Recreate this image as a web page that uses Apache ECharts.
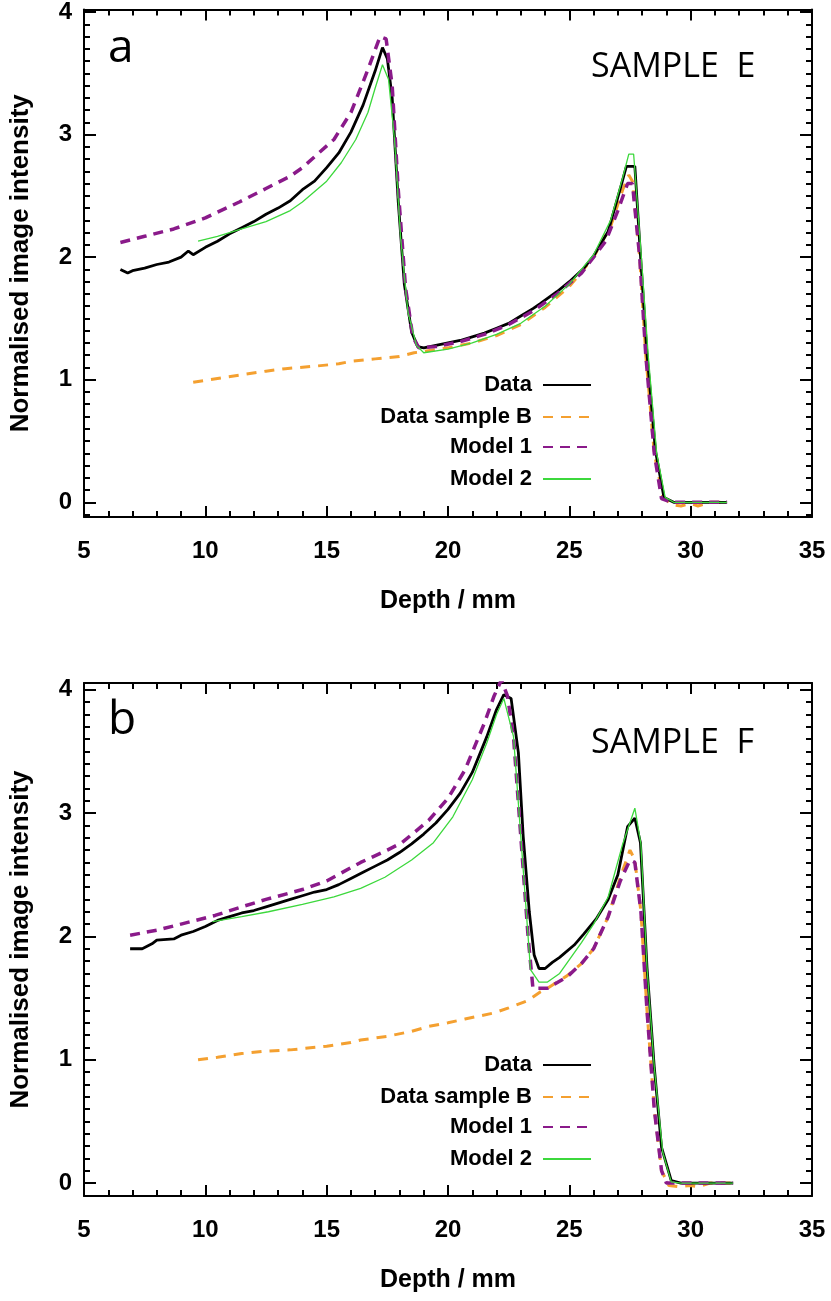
<!DOCTYPE html>
<html><head><meta charset="utf-8">
<script src="https://cdn.jsdelivr.net/npm/echarts@6/dist/echarts.min.js"></script>
<style>html,body{margin:0;padding:0;background:#fff}#c{width:831px;height:1301px}</style>
</head><body><div id="c"></div>
<script>
// ---------- data ----------
const seriesNames = ['Data', 'Data sample B', 'Model 1', 'Model 2'];
const xTickLabels = [5, 10, 15, 20, 25, 30, 35];
const yTickLabels = [0, 1, 2, 3, 4];
const panelTitles = ['a', 'b'];
const sampleTitles = ['SAMPLE  E', 'SAMPLE  F'];

// Panel a (SAMPLE E): [depth mm, normalised intensity]
const a_data = [[6.5,1.90],[6.8,1.87],[7.0,1.89],[7.5,1.91],[8.0,1.94],[8.5,1.96],[9.0,2.00],[9.3,2.05],[9.5,2.02],[10.0,2.08],[10.5,2.13],[11.0,2.19],[11.5,2.24],[12.0,2.29],[12.5,2.35],[13.0,2.40],[13.5,2.46],[14.0,2.55],[14.5,2.62],[15.0,2.73],[15.5,2.85],[16.0,3.02],[16.5,3.24],[17.0,3.52],[17.3,3.71],[17.5,3.62],[17.7,3.30],[17.95,2.45],[18.2,1.78],[18.5,1.39],[18.75,1.27],[19.0,1.26],[19.5,1.28],[20.0,1.30],[20.5,1.32],[21.0,1.35],[21.5,1.38],[22.0,1.42],[22.5,1.46],[23.0,1.52],[23.5,1.58],[23.8,1.62],[24.5,1.72],[25.0,1.80],[25.6,1.91],[26.0,2.01],[26.6,2.21],[27.1,2.56],[27.35,2.74],[27.7,2.74],[27.93,2.02],[28.2,1.21],[28.55,0.42],[28.9,0.04],[29.3,0.00],[30.0,0.00],[31.5,0.00]];
const a_sampleB = [[9.5,0.98],[10.5,1.01],[11.5,1.04],[12.5,1.07],[13.3,1.09],[14.5,1.11],[15.5,1.13],[16.0,1.15],[17.0,1.17],[18.0,1.19],[18.6,1.22],[19.0,1.23],[20.0,1.26],[21.0,1.30],[22.0,1.36],[23.0,1.45],[24.0,1.59],[25.0,1.76],[26.0,2.00],[26.7,2.25],[27.2,2.55],[27.45,2.67],[27.6,2.62],[27.9,2.00],[28.15,1.20],[28.5,0.40],[28.85,0.05],[29.2,-0.02],[29.6,-0.03],[30.0,-0.01],[30.3,-0.03],[30.8,0.00],[31.55,0.00]];
const a_model1 = [[6.5,2.12],[7.5,2.17],[8.7,2.23],[10.0,2.32],[11.4,2.45],[12.5,2.56],[13.5,2.66],[14.0,2.73],[15.3,2.96],[16.0,3.18],[16.7,3.53],[17.2,3.80],[17.45,3.78],[17.7,3.40],[17.95,2.55],[18.25,1.75],[18.55,1.35],[18.8,1.26],[19.5,1.27],[20.5,1.31],[21.5,1.37],[22.5,1.45],[23.5,1.56],[24.5,1.70],[25.5,1.87],[26.5,2.13],[27.0,2.38],[27.4,2.60],[27.6,2.60],[27.9,2.00],[28.15,1.20],[28.5,0.40],[28.8,0.03],[29.2,0.00],[31.5,0.00]];
const a_model2 = [[9.7,2.13],[10.5,2.17],[11.5,2.23],[12.5,2.29],[13.5,2.38],[14.0,2.45],[15.0,2.62],[15.6,2.77],[16.2,2.96],[16.7,3.18],[17.0,3.38],[17.3,3.57],[17.55,3.45],[17.8,2.95],[18.05,2.15],[18.35,1.55],[18.7,1.28],[19.0,1.22],[20.0,1.25],[21.0,1.30],[22.0,1.37],[23.0,1.46],[24.0,1.60],[25.0,1.78],[26.0,2.02],[26.7,2.30],[27.2,2.65],[27.45,2.84],[27.65,2.84],[27.95,2.05],[28.25,1.20],[28.6,0.40],[28.95,0.04],[29.3,0.00],[31.5,0.00]];

// Panel b (SAMPLE F)
const b_data = [[6.9,1.90],[7.4,1.90],[7.8,1.94],[8.0,1.97],[8.7,1.98],[9.0,2.01],[9.5,2.04],[10.0,2.08],[10.5,2.13],[11.0,2.16],[11.5,2.19],[12.0,2.21],[12.5,2.24],[13.0,2.27],[13.5,2.30],[14.0,2.33],[14.5,2.36],[15.0,2.38],[15.5,2.42],[16.0,2.47],[16.5,2.52],[17.0,2.57],[17.5,2.62],[18.0,2.68],[18.5,2.75],[19.0,2.83],[19.5,2.92],[20.0,3.03],[20.5,3.16],[21.0,3.33],[21.6,3.62],[22.0,3.84],[22.3,3.96],[22.6,3.93],[22.9,3.49],[23.1,2.81],[23.35,2.20],[23.55,1.85],[23.75,1.74],[24.0,1.74],[24.3,1.79],[24.6,1.83],[25.2,1.93],[25.6,2.02],[26.1,2.14],[26.6,2.30],[27.0,2.50],[27.4,2.89],[27.7,2.96],[27.93,2.76],[28.2,1.75],[28.5,0.94],[28.8,0.29],[29.2,0.02],[29.6,0.00],[31.75,0.00]];
const b_sampleB = [[9.7,1.00],[10.5,1.02],[11.5,1.05],[12.5,1.07],[13.5,1.08],[14.0,1.09],[15.0,1.11],[16.0,1.14],[16.4,1.16],[17.5,1.19],[18.5,1.23],[19.2,1.27],[20.0,1.30],[20.7,1.33],[21.9,1.38],[22.5,1.42],[23.3,1.48],[23.8,1.55],[24.1,1.58],[24.9,1.68],[25.5,1.78],[26.0,1.90],[26.6,2.16],[27.1,2.48],[27.5,2.70],[27.7,2.62],[27.95,2.20],[28.2,1.40],[28.5,0.60],[28.8,0.10],[29.1,-0.02],[29.5,-0.03],[30.0,-0.02],[30.3,-0.03],[30.8,0.00],[31.75,0.00]];
const b_model1 = [[6.9,2.01],[8.0,2.05],[9.0,2.10],[10.4,2.17],[11.5,2.24],[12.5,2.30],[14.0,2.38],[15.0,2.45],[16.4,2.60],[17.5,2.70],[18.1,2.76],[19.2,2.94],[20.0,3.12],[20.7,3.35],[21.5,3.73],[21.9,3.95],[22.2,4.08],[22.45,3.95],[22.7,3.62],[23.0,2.81],[23.3,2.00],[23.5,1.58],[24.1,1.58],[24.9,1.67],[25.5,1.78],[26.0,1.90],[26.6,2.16],[27.1,2.45],[27.5,2.62],[27.7,2.60],[27.95,2.20],[28.2,1.40],[28.5,0.60],[28.8,0.10],[29.0,0.00],[31.75,0.00]];
const b_model2 = [[10.3,2.12],[11.5,2.16],[12.6,2.20],[14.0,2.26],[15.3,2.32],[16.4,2.39],[17.4,2.48],[18.5,2.62],[19.4,2.76],[20.2,2.97],[21.0,3.27],[21.6,3.57],[22.0,3.80],[22.3,3.93],[22.7,3.62],[23.0,2.81],[23.4,1.73],[23.75,1.63],[24.1,1.63],[24.6,1.70],[25.5,1.95],[26.0,2.10],[26.6,2.32],[27.2,2.75],[27.7,3.04],[27.95,2.75],[28.2,1.75],[28.5,0.94],[28.85,0.25],[29.2,0.01],[29.6,0.00],[31.75,0.00]];

const panels = [
  { data: [a_data, a_sampleB, a_model1, a_model2] },
  { data: [b_data, b_sampleB, b_model1, b_model2] }
];

// ---------- style / layout ----------
const FONT = '"Liberation Sans", Arial, sans-serif';
const styles = [
  { color: '#000000', width: 2.8, type: 'solid' },
  { color: '#f4a030', width: 3, type: [10, 8] },
  { color: '#8a1a8a', width: 3.5, type: [10, 7] },
  { color: '#3cd83c', width: 1.3, type: 'solid' }
];
const layout = [
  { top: 8, height: 509, ymin: -0.12, ymax: 4.02, legendRows: [385, 417, 447, 479], letterTop: 26, sampleTop: 50 },
  { top: 683, height: 513, ymin: -0.105, ymax: 4.055, legendRows: [1065, 1097, 1127, 1159], letterTop: 698, sampleTop: 726 }
];
const GL = 82, GW = 730;

const minorY = [];
for (let v = -1; v <= 41; v++) minorY.push(v / 10);

const grids = [], xAxes = [], yAxes = [], series = [], legends = [], titles = [];
layout.forEach((L, p) => {
  grids.push({ left: GL, top: L.top, width: GW, height: L.height, containLabel: false });
  const xBase = {
    type: 'value', gridIndex: p, min: 5, max: 35, interval: 5,
    axisLine: { show: true, onZero: false, lineStyle: { color: '#000', width: 2 } },
    axisTick: { show: true, inside: true, length: 11, lineStyle: { color: '#000', width: 2 } },
    minorTick: { show: true, splitNumber: 5, length: 6, lineStyle: { color: '#000', width: 2 } },
    splitLine: { show: false }, minorSplitLine: { show: false }
  };
  xAxes.push(Object.assign({}, xBase, {
    position: 'bottom',
    axisLabel: { show: true, margin: 22, color: '#000', fontFamily: FONT, fontWeight: 'bold', fontSize: 24 },
    name: 'Depth / mm', nameLocation: 'middle', nameGap: 72,
    nameTextStyle: { color: '#000', fontFamily: FONT, fontWeight: 'bold', fontSize: 25 }
  }));
  xAxes.push(Object.assign({}, xBase, { position: 'top', axisLabel: { show: false } }));

  const yBase = {
    type: 'value', gridIndex: p, min: L.ymin, max: L.ymax,
    splitLine: { show: false }, axisLabel: { show: false }
  };
  const yMajorTick = { show: true, inside: true, length: 12, customValues: yTickLabels, lineStyle: { color: '#000', width: 2 } };
  const yMinorTick = { show: true, inside: true, length: 6, customValues: minorY, lineStyle: { color: '#000', width: 2 } };
  yAxes.push(Object.assign({}, yBase, {
    position: 'left',
    axisLine: { show: true, onZero: false, lineStyle: { color: '#000', width: 2 } },
    axisTick: yMajorTick,
    axisLabel: { show: true, customValues: yTickLabels, margin: 12, color: '#000', fontFamily: FONT, fontWeight: 'bold', fontSize: 24 },
    name: 'Normalised image intensity', nameLocation: 'middle', nameGap: 50, nameRotate: 90,
    nameTextStyle: { color: '#000', fontFamily: FONT, fontWeight: 'bold', fontSize: 26 }
  }));
  yAxes.push(Object.assign({}, yBase, { position: 'left', axisLine: { show: false }, axisTick: yMinorTick }));
  yAxes.push(Object.assign({}, yBase, {
    position: 'right',
    axisLine: { show: true, onZero: false, lineStyle: { color: '#000', width: 2 } },
    axisTick: yMajorTick
  }));
  yAxes.push(Object.assign({}, yBase, { position: 'right', axisLine: { show: false }, axisTick: yMinorTick }));

  seriesNames.forEach((name, s) => {
    series.push({
      type: 'line', name: name, xAxisIndex: 2 * p, yAxisIndex: 4 * p,
      data: panels[p].data[s], symbol: 'none', smooth: false, clip: true,
      lineStyle: { color: styles[s].color, width: styles[s].width, type: styles[s].type },
      itemStyle: { color: styles[s].color },
      z: [3, 2, 4, 5][s]
    });
    legends.push({
      data: [name], orient: 'horizontal', align: 'right',
      right: 831 - 592, top: L.legendRows[s] - 11,
      itemWidth: 48, itemHeight: 14, itemGap: 10, padding: 0,
      selectedMode: false,
      formatter: (n) => n + ' ',
      itemStyle: { color: 'rgba(0,0,0,0)', borderColor: 'rgba(0,0,0,0)', borderWidth: 0 },
      textStyle: { color: '#000', fontFamily: FONT, fontWeight: 'bold', fontSize: 22, lineHeight: 22 }
    });
  });

  titles.push({ text: panelTitles[p], left: 108, top: L.letterTop, padding: 0,
    textStyle: { color: '#000', fontFamily: '"Open Sans", sans-serif', fontWeight: 'normal', fontSize: 46 } });
  titles.push({ text: sampleTitles[p], left: 591, top: L.sampleTop, padding: 0,
    textStyle: { color: '#000', fontFamily: '"Open Sans", sans-serif', fontWeight: 'normal', fontSize: 34 } });
});

const chart = echarts.init(document.getElementById('c'), null, { renderer: 'canvas' });
chart.setOption({
  backgroundColor: '#fff',
  animation: false,
  title: titles,
  grid: grids,
  xAxis: xAxes,
  yAxis: yAxes,
  legend: legends,
  series: series
});
</script>
</body></html>
